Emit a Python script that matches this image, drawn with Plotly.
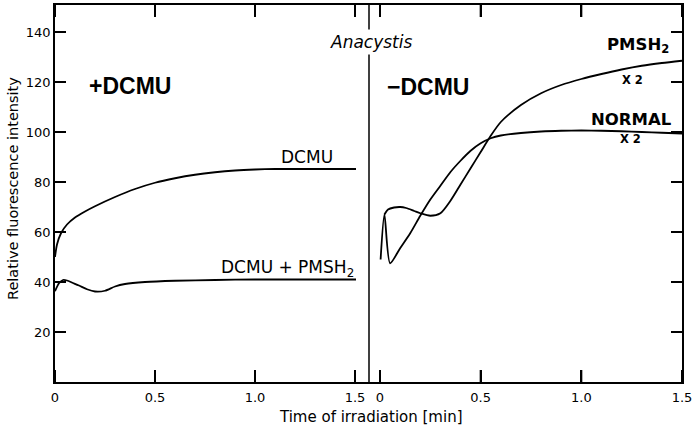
import plotly.graph_objects as go

# ---- data ----
dcmu_t = [0, 0.01, 0.03, 0.06, 0.1, 0.15, 0.2, 0.3, 0.4, 0.5, 0.6, 0.7, 0.8, 0.9, 1.0, 1.1, 1.2, 1.3, 1.4, 1.505]
dcmu_v = [50, 55, 59.5, 63, 65.8, 68.2, 70.3, 74, 77.2, 79.7, 81.5, 82.9, 83.9, 84.6, 85, 85.2, 85.2, 85.2, 85.2, 85.2]

dcmu_pmsh_t = [0, 0.02, 0.04, 0.06, 0.09, 0.12, 0.16, 0.2, 0.25, 0.3, 0.35, 0.45, 0.6, 0.8, 1.0, 1.2, 1.505]
dcmu_pmsh_v = [36.3, 39.5, 40.8, 40.6, 39.6, 38.6, 37.1, 36.2, 36.5, 38.2, 39.2, 40.0, 40.5, 40.8, 41, 41, 41]

normal_t = [0.003, 0.022, 0.05, 0.1, 0.15, 0.2, 0.25, 0.3, 0.35, 0.4, 0.45, 0.5, 0.55, 0.6, 0.7, 0.8, 0.9, 1.0, 1.1, 1.2, 1.3, 1.4, 1.5]
normal_v = [49, 67, 47.5, 53.5, 59.5, 66.5, 73, 78.5, 84, 88.5, 92.5, 95.5, 97.5, 98.6, 99.6, 100.2, 100.5, 100.6, 100.5, 100.3, 100, 99.7, 99.4]

pmsh_t = [0.022, 0.04, 0.07, 0.1, 0.13, 0.17, 0.2, 0.25, 0.3, 0.35, 0.4, 0.45, 0.5, 0.55, 0.6, 0.7, 0.8, 0.9, 1.0, 1.1, 1.2, 1.3, 1.4, 1.5]
pmsh_v = [67, 69, 69.8, 70, 69.6, 68.4, 67.5, 66.5, 67.5, 72.5, 79, 85.5, 92, 98.5, 104, 110.8, 115.5, 118.8, 121.2, 123.2, 125, 126.5, 127.6, 128.5]

x_tickvals = [0, 0.5, 1.0, 1.5]
x_ticktext = ["0", "0.5", "1.0", "1.5"]
y_tickvals = [20, 40, 60, 80, 100, 120, 140]

# ---- figure ----
W, H = 692, 427
ML, MR, MT, MB = 55, 10, 5, 45
PW, PH = W - ML - MR, H - MB - MT
split = (369 - ML) / PW
XTICK_LEN, YTICK_LEN = 12, 11   # pixels
PX_PER_UNIT = 2.5

line = dict(color="black", width=1.8, shape="spline", smoothing=0.7)
fig = go.Figure()
fig.add_trace(go.Scatter(x=dcmu_t, y=dcmu_v, mode="lines", line=line, xaxis="x", yaxis="y"))
fig.add_trace(go.Scatter(x=dcmu_pmsh_t, y=dcmu_pmsh_v, mode="lines", line=line, xaxis="x", yaxis="y"))
fig.add_trace(go.Scatter(x=normal_t, y=normal_v, mode="lines", line=line, xaxis="x2", yaxis="y2"))
fig.add_trace(go.Scatter(x=pmsh_t, y=pmsh_v, mode="lines", line=line, xaxis="x2", yaxis="y2"))

tickfont = dict(family="DejaVu Sans", size=13, color="black")
axis_common = dict(showgrid=False, zeroline=False, showline=True, linecolor="black", linewidth=1.5,
                   ticks="inside", tickcolor="#000000", tickwidth=2, tickfont=tickfont,
                   ticklabeloverflow="allow", automargin=False)

yr = [0, PH / PX_PER_UNIT]
fig.update_layout(
    width=W, height=H, margin=dict(l=ML, r=MR, t=MT, b=MB, autoexpand=False),
    paper_bgcolor="white", plot_bgcolor="white", showlegend=False,
    xaxis=dict(domain=[0, split], range=[0, (369 - ML) / 200], anchor="y",
               tickmode="array", tickvals=x_tickvals, ticktext=x_ticktext, ticklen=XTICK_LEN,
               mirror="allticks", ticklabelstandoff=3, **axis_common),
    xaxis2=dict(domain=[split, 1], range=[-(380 - 369) / 201.33, 1.5], anchor="y2",
                tickmode="array", tickvals=x_tickvals, ticktext=x_ticktext, ticklen=XTICK_LEN,
                mirror="allticks", ticklabelstandoff=3, **axis_common),
    yaxis=dict(domain=[0, 1], range=yr, anchor="x", tickmode="array", tickvals=y_tickvals,
               ticklen=YTICK_LEN, **axis_common),
    yaxis2=dict(domain=[0, 1], range=yr, anchor="x2", side="right", tickmode="array",
                tickvals=y_tickvals, ticklen=YTICK_LEN, showticklabels=False, **axis_common),
)

# panel divider (part of the frame)
fig.add_shape(type="line", xref="paper", yref="paper", x0=split, x1=split, y0=0, y1=1,
              line=dict(color="black", width=1.5), layer="above")

# inside tick marks at the axis tick values, drawn as plain shapes
tick_line = dict(color="black", width=2)
xt = XTICK_LEN / PX_PER_UNIT
for xr, yref in (("x", "y"), ("x2", "y2")):
    for tv in x_tickvals:
        fig.add_shape(type="line", xref=xr, yref=yref, x0=tv, x1=tv, y0=yr[0], y1=yr[0] + xt,
                      line=tick_line, layer="above")
        fig.add_shape(type="line", xref=xr, yref=yref, x0=tv, x1=tv, y0=yr[1], y1=yr[1] - xt,
                      line=tick_line, layer="above")
yt = YTICK_LEN / PW
for tv in y_tickvals:
    fig.add_shape(type="line", xref="paper", yref="y", x0=0, x1=yt, y0=tv, y1=tv,
                  line=tick_line, layer="above")
    fig.add_shape(type="line", xref="paper", yref="y", x0=1, x1=1 - yt, y0=tv, y1=tv,
                  line=tick_line, layer="above")

txt = dict(family="DejaVu Sans", color="black")
bold_big = dict(family="Liberation Sans", size=23, color="black")
annots = [
    dict(text="<b>+DCMU</b>", x=0.3725, y=118.4, xref="x", yref="y", font=bold_big),
    dict(text="<b>\u2212DCMU</b>", x=0.236, y=118, xref="x2", yref="y2", font=bold_big),
    dict(text="DCMU", x=1.26, y=90, xref="x", yref="y", font=dict(size=17, **txt)),
    dict(text="DCMU + PMSH<sub>2</sub>", x=1.16, y=45.5, xref="x", yref="y", font=dict(size=17, **txt)),
    dict(text="<b>PMSH<sub>2</sub></b>", x=1.28, y=134.5, xref="x2", yref="y2", font=dict(size=16.5, **txt)),
    dict(text="<b>X 2</b>", x=1.252, y=120.8, xref="x2", yref="y2", font=dict(size=11.5, **txt)),
    dict(text="<b>NORMAL</b>", x=1.247, y=105.2, xref="x2", yref="y2", font=dict(size=16.5, **txt)),
    dict(text="<b>X 2</b>", x=1.242, y=97.2, xref="x2", yref="y2", font=dict(size=11.5, **txt)),
    dict(text="<i>Anacystis</i>", x=(371 - ML) / PW, y=(H - MB - 42) / PH,
         xref="paper", yref="paper", font=dict(size=17, **txt), bgcolor="white", borderpad=2),
    dict(text="Time of irradiation [min]", x=(371 - ML) / PW, y=(H - MB - 417) / PH,
         xref="paper", yref="paper", font=dict(size=15, **txt)),
    dict(text="Relative fluorescence intensity", x=(13 - ML) / PW, y=(H - MB - 189) / PH,
         xref="paper", yref="paper", textangle=-90, font=dict(size=14.5, **txt)),
]
for a in annots:
    a.setdefault("showarrow", False)
    a.setdefault("xanchor", "center")
    a.setdefault("yanchor", "middle")
    fig.add_annotation(**a)

fig.write_html("out.html")
